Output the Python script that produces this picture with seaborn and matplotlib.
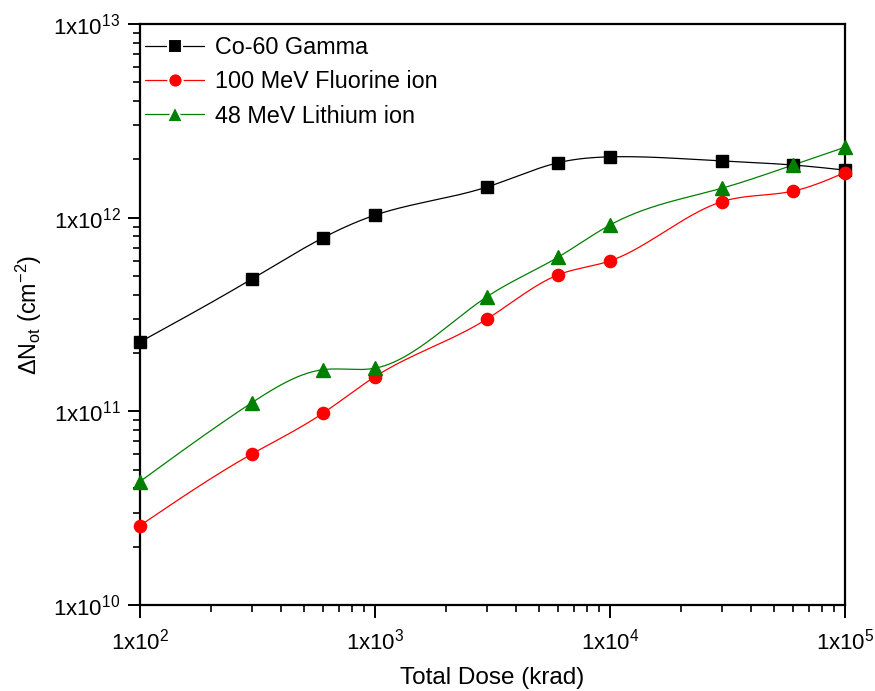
import numpy as np
import pandas as pd
import matplotlib
matplotlib.use("Agg")
import matplotlib.pyplot as plt
import seaborn as sns
from matplotlib.ticker import LogLocator, FuncFormatter, NullFormatter
from matplotlib.lines import Line2D

# Total dose (krad) and oxide trapped charge density (cm^-2)
dose = [100, 300, 600, 1000, 3000, 6000, 10000, 30000, 60000, 100000]
gamma = [2.28e11, 4.83e11, 7.86e11, 1.03e12, 1.44e12, 1.92e12, 2.06e12, 1.96e12, 1.87e12, 1.76e12]
fluorine = [2.57e10, 6.03e10, 9.77e10, 1.51e11, 3.00e11, 5.06e11, 5.98e11, 1.21e12, 1.37e12, 1.71e12]
lithium = [4.34e10, 1.11e11, 1.64e11, 1.67e11, 3.91e11, 6.24e11, 9.16e11, 1.42e12, 1.87e12, 2.31e12]

series_names = ["Co-60 Gamma", "100 MeV Fluorine ion", "48 MeV Lithium ion"]
series_values = [gamma, fluorine, lithium]
colors = ["#000000", "#ff0000", "#008000"]
markers = ["s", "o", "^"]
msizes = [8.6, 8.8, 10.0]


def natural_spline(x, y, xs):
    """Natural cubic spline through (x, y), evaluated at xs."""
    x = np.asarray(x, float)
    y = np.asarray(y, float)
    n = len(x)
    h = np.diff(x)
    A = np.zeros((n, n))
    r = np.zeros(n)
    A[0, 0] = 1.0
    A[-1, -1] = 1.0
    for i in range(1, n - 1):
        A[i, i - 1] = h[i - 1]
        A[i, i] = 2 * (h[i - 1] + h[i])
        A[i, i + 1] = h[i]
        r[i] = 3 * ((y[i + 1] - y[i]) / h[i] - (y[i] - y[i - 1]) / h[i - 1])
    c = np.linalg.solve(A, r)
    b = (y[1:] - y[:-1]) / h - h * (2 * c[:-1] + c[1:]) / 3
    d = (c[1:] - c[:-1]) / (3 * h)
    idx = np.clip(np.searchsorted(x, xs) - 1, 0, n - 2)
    t = xs - x[idx]
    return y[idx] + b[idx] * t + c[idx] * t ** 2 + d[idx] * t ** 3


sns.set_theme(style="white")
plt.rcParams["font.family"] = ["Liberation Sans", "DejaVu Sans"]
plt.rcParams["mathtext.fontset"] = "custom"
plt.rcParams["mathtext.rm"] = "Liberation Sans"
plt.rcParams["mathtext.it"] = "Liberation Sans"
plt.rcParams["mathtext.default"] = "regular"
plt.rcParams["text.color"] = "black"
plt.rcParams["axes.labelcolor"] = "black"

fig = plt.figure(figsize=(8.75, 6.91), dpi=100)
ax = fig.add_axes([0.16, 0.1245, 0.8057, 0.8408])

# smooth curves through the measured points in log-log space
lx = np.log10(dose)
xs = np.linspace(lx[0], lx[-1], 600)
curve_frames = []
point_frames = []
for name, vals in zip(series_names, series_values):
    ys = natural_spline(lx, np.log10(vals), xs)
    curve_frames.append(pd.DataFrame({"dose": 10 ** xs, "N": 10 ** ys, "series": name}))
    point_frames.append(pd.DataFrame({"dose": dose, "N": vals, "series": name}))
curves = pd.concat(curve_frames, ignore_index=True)
points = pd.concat(point_frames, ignore_index=True)

palette = dict(zip(series_names, colors))
sns.lineplot(data=curves, x="dose", y="N", hue="series", palette=palette,
             linewidth=0.9, legend=False, ax=ax, sort=False, estimator=None)
for name, m, ms in zip(series_names, markers, msizes):
    sub = points[points["series"] == name]
    ax.plot(sub["dose"], sub["N"], linestyle="none", marker=m, markersize=ms,
            color=palette[name], markeredgecolor=palette[name], zorder=3, clip_on=False)

ax.set_xscale("log")
ax.set_yscale("log")
ax.set_xlim(1e2, 1e5)
ax.set_ylim(1e10, 1e13)

fmt = FuncFormatter(lambda v, pos: "1x10$^{%d}$" % int(round(np.log10(v))))
ax.xaxis.set_major_locator(LogLocator(base=10, numticks=10))
ax.yaxis.set_major_locator(LogLocator(base=10, numticks=10))
ax.xaxis.set_minor_locator(LogLocator(base=10, subs=np.arange(2, 10), numticks=20))
ax.yaxis.set_minor_locator(LogLocator(base=10, subs=np.arange(2, 10), numticks=20))
ax.xaxis.set_major_formatter(fmt)
ax.yaxis.set_major_formatter(fmt)
ax.xaxis.set_minor_formatter(NullFormatter())
ax.yaxis.set_minor_formatter(NullFormatter())

ax.tick_params(axis="both", which="major", direction="out", length=9, width=1.4,
               labelsize=16, color="black", labelcolor="black")
ax.tick_params(axis="both", which="minor", direction="out", length=5, width=1.2,
               color="black")
ax.tick_params(axis="x", which="major", pad=8)
ax.tick_params(axis="y", which="major", pad=5)
ax.tick_params(top=False, right=False, which="both")
ax.tick_params(bottom=True, left=True, which="both")

for s in ax.spines.values():
    s.set_linewidth(1.6)
    s.set_color("black")
    s.set_visible(True)

ax.set_xlabel("Total Dose (krad)", fontsize=17.5, color="black", labelpad=9)
ax.set_ylabel("$\\Delta$N$_{ot}$ (cm$^{-2}$)", fontsize=16.8, color="black", labelpad=7)

handles = [Line2D([0], [0], color=c, marker=m, markersize=ms + 1.5, linewidth=0.9,
                  markerfacecolor=c, markeredgecolor="white", markeredgewidth=1.5)
           for c, m, ms in zip(colors, markers, msizes)]
ax.legend(handles, series_names, loc="upper left", bbox_to_anchor=(-0.013, 1.003),
          frameon=False, fontsize=16.8, handlelength=2.55, handletextpad=0.45,
          labelspacing=0.48, borderaxespad=0.2)

fig.savefig("out.png", dpi=100)
